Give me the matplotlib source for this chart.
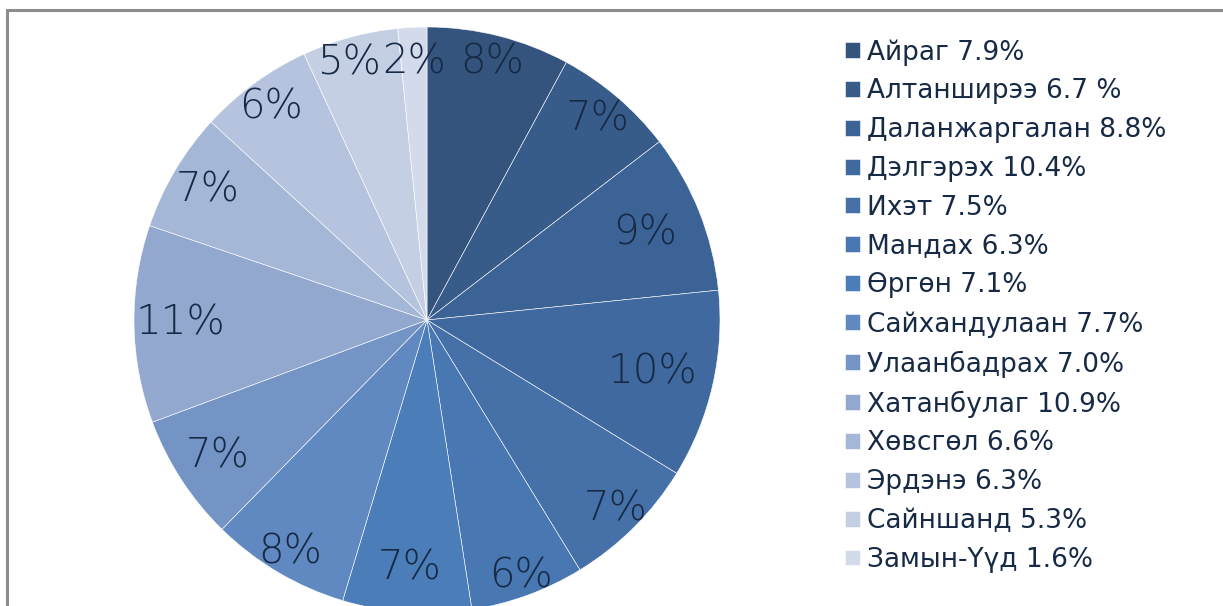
import matplotlib
matplotlib.use("Agg")
import matplotlib.pyplot as plt
from matplotlib.patches import Rectangle
import matplotlib.transforms as mtransforms

# data
names = ["Айраг", "Алтанширээ", "Даланжаргалан", "Дэлгэрэх", "Ихэт", "Мандах", "Өргөн",
         "Сайхандулаан", "Улаанбадрах", "Хатанбулаг", "Хөвсгөл", "Эрдэнэ", "Сайншанд", "Замын-Үүд"]
shares = [7.9, 6.7, 8.8, 10.4, 7.5, 6.3, 7.1, 7.7, 7.0, 10.9, 6.6, 6.3, 5.3, 1.6]
legend_labels = ["Айраг 7.9%", "Алтанширээ 6.7 %", "Даланжаргалан 8.8%", "Дэлгэрэх 10.4%",
                 "Ихэт 7.5%", "Мандах 6.3%", "Өргөн 7.1%", "Сайхандулаан 7.7%",
                 "Улаанбадрах 7.0%", "Хатанбулаг 10.9%", "Хөвсгөл 6.6%", "Эрдэнэ 6.3%",
                 "Сайншанд 5.3%", "Замын-Үүд 1.6%"]
colors = ["#34547e", "#385c8a", "#3c6395", "#406a9f", "#4571a8", "#4877b1", "#4b7db9",
          "#5f89c0", "#7494c6", "#93a8cf", "#a5b7d7", "#b5c3de", "#c5cfe4", "#d3dbea"]
# how far out each percent label sits (fraction of radius), like Excel's best fit
label_dist = [0.91, 0.90, 0.80, 0.79, 0.91, 0.93, 0.85, 0.92, 0.85, 0.84, 0.87, 0.90, 0.91, 0.88]

txt = "#172a45"
plt.rcParams['font.family'] = ['DejaVu Sans']

fig = plt.figure(figsize=(12.23, 6.06), dpi=100)
W, H = 1223, 606

# grey outer frame
fig.patches.append(Rectangle((7 / W, -0.1), 1.2, 596 / H + 0.1, transform=fig.transFigure,
                             fill=False, edgecolor="#8c8c8c", linewidth=2.2))

ax = fig.add_axes([134 / W, -7 / H, 586 / W, 586 / H])
wedges, texts, autotexts = ax.pie(shares, colors=colors, startangle=90, counterclock=False,
                                  autopct="%.0f%%", pctdistance=0.87, radius=1,
                                  wedgeprops=dict(edgecolor="white", linewidth=0.4))
for t, w, d in zip(autotexts, wedges, label_dist):
    x, y = t.get_position()
    r = (x ** 2 + y ** 2) ** 0.5
    t.set_position((x / r * d, y / r * d))
    t.set_fontsize(29)
    t.set_fontweight("light")
    t.set_color(txt)
# small slices at the top: push "5%" left a little so it doesn't sit on "2%"
autotexts[12].set_transform(ax.transData + mtransforms.ScaledTranslation(-0.08, 0, fig.dpi_scale_trans))
ax.set_xlim(-1, 1)
ax.set_ylim(-1, 1)
ax.set_aspect("equal")
ax.axis("off")

leg = fig.legend(wedges, legend_labels, loc="upper left", bbox_to_anchor=(845 / W, 1 - 39 / H),
                 frameon=False, fontsize=19, handlelength=0.55, handleheight=0.55,
                 handletextpad=0.27, labelspacing=0.485, borderaxespad=0, borderpad=0)
for t in leg.get_texts():
    t.set_color(txt)

fig.savefig("out.png", dpi=100)
